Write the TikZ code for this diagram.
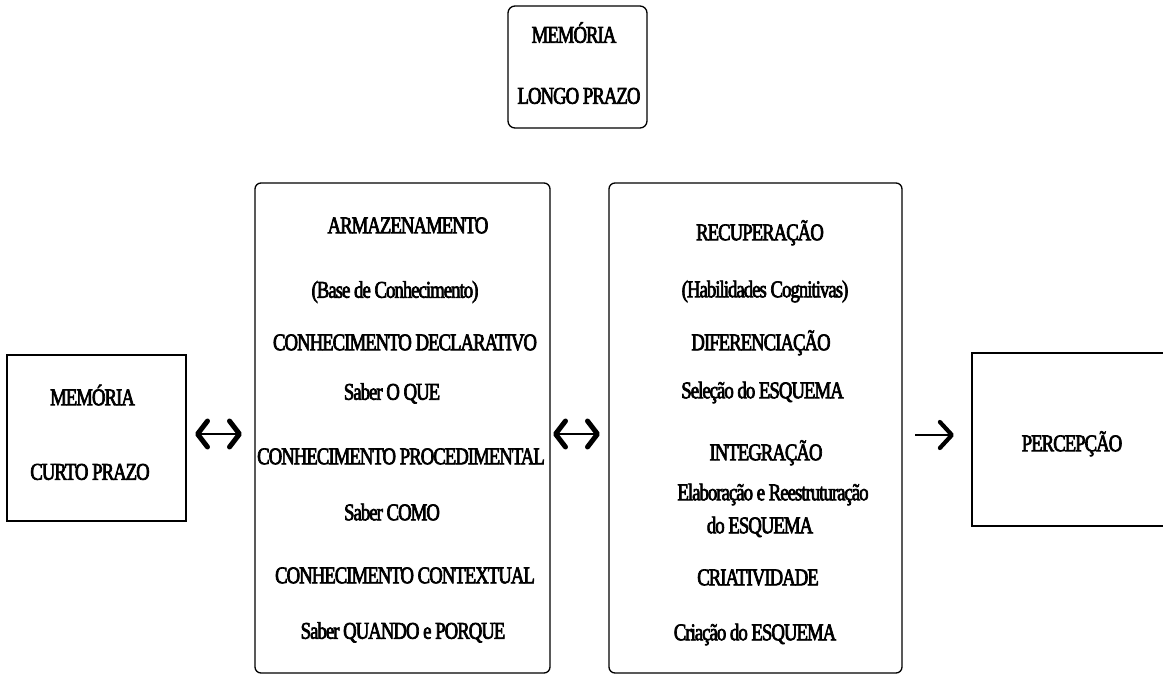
\documentclass[tikz,border=0pt]{standalone}
\usepackage{fontspec}
\setmainfont{Liberation Serif}[FakeStretch=0.78, LetterSpace=-4, FakeBold=2.8]
\usetikzlibrary{arrows.meta}
\tikzset{
  chev/.tip={Straight Barb[length=10pt,width=26pt,line width=5pt 0,round]},
  chevr/.tip={Straight Barb[length=12pt,width=26pt,line width=4.2pt 0,round]}
}
\begin{document}
\begin{tikzpicture}[x=1pt,y=-1pt,
  box/.style={draw, line width=1.3pt, inner sep=0pt, outer sep=0pt},
  rbox/.style={box, rounded corners=7pt},
  lbl/.style={inner sep=0pt, font=\fontsize{24}{26}\selectfont, text height=15.5pt, text depth=0pt},
  twoway/.style={line width=1.3pt, arrows={chev-chev}},
  oneway/.style={line width=1.4pt, arrows={-chevr}}
]
\useasboundingbox (0,0) rectangle (1163,676);

% boxes
\node[rbox, minimum width=139pt, minimum height=122pt] (ltm) at (577.5,67) {};
\node[box, minimum width=179pt, minimum height=166pt] (stm) at (96.5,438) {};
\node[rbox, rounded corners=6pt, minimum width=295pt, minimum height=490pt] (store) at (402.5,428) {};
\node[rbox, rounded corners=6pt, minimum width=293pt, minimum height=490pt] (recall) at (755.5,428) {};
\node[inner sep=0pt, outer sep=0pt, minimum width=191pt, minimum height=173pt] (perc) at (1067.5,439.5) {};
\draw[line width=1.3pt] (perc.north east) -- (perc.north west) -- (perc.south west) -- (perc.south east);

% long-term memory
\node[lbl] (ltm1) at (574,35) {MEMÓRIA};
\node[lbl] (ltm2) at (579,96) {LONGO PRAZO};

% short-term memory
\node[lbl] (stm1) at (92.5,397.5) {MEMÓRIA};
\node[lbl] (stm2) at (90,472) {CURTO PRAZO};

% storage column
\node[lbl] (s1) at (408,225.5) {ARMAZENAMENTO};
\node[lbl] (s2) at (395,290) {(Base de Conhecimento)};
\node[lbl] (s3) at (405,342.5) {CONHECIMENTO DECLARATIVO};
\node[lbl] (s4) at (392,392) {Saber O QUE};
\node[lbl] (s5) at (401,456.5) {CONHECIMENTO PROCEDIMENTAL};
\node[lbl] (s6) at (392,512.5) {Saber COMO};
\node[lbl] (s7) at (405,575.5) {CONHECIMENTO CONTEXTUAL};
\node[lbl] (s8) at (403,631) {Saber QUANDO e PORQUE};

% retrieval column
\node[lbl] (r1) at (760,232.5) {RECUPERAÇÃO};
\node[lbl] (r2) at (765,289.5) {(Habilidades Cognitivas)};
\node[lbl] (r3) at (761,342.5) {DIFERENCIAÇÃO};
\node[lbl] (r4) at (762.5,390.5) {Seleção do ESQUEMA};
\node[lbl] (r5) at (766,452.5) {INTEGRAÇÃO};
\node[lbl] (r6) at (773,492.5) {Elaboração e Reestruturação};
\node[lbl] (r7) at (760,525.5) {do ESQUEMA};
\node[lbl] (r8) at (758,577.5) {CRIATIVIDADE};
\node[lbl] (r9) at (755,632.5) {Criação do ESQUEMA};

% perception
\node[lbl] (p1) at (1072,443.5) {PERCEPÇÃO};

% connectors
\draw[twoway, shorten <=9pt, shorten >=13pt] ([yshift=4pt]stm.east) -- ([yshift=4pt]stm.east -| store.west);
\draw[twoway, shorten <=3pt, shorten >=9pt] ([yshift=-6pt]store.east) -- ([yshift=-6pt]store.east -| recall.west);
\draw[oneway, shorten <=13pt, shorten >=18pt] ([yshift=-7pt]recall.east) -- ([yshift=-7pt]recall.east -| perc.west);
\end{tikzpicture}
\end{document}
